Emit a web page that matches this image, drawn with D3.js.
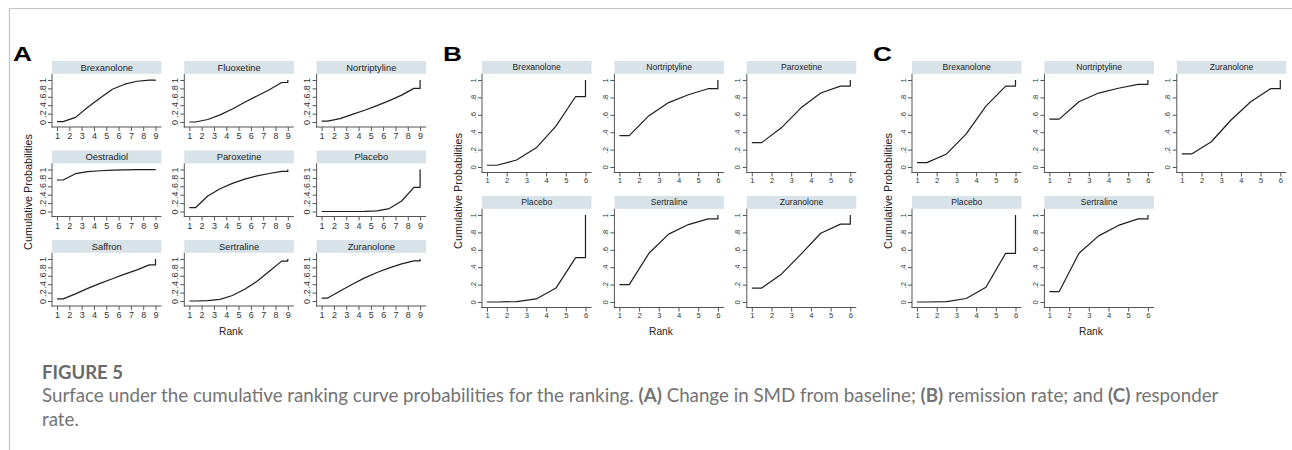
<!DOCTYPE html>
<html><head><meta charset="utf-8">
<script src="https://cdn.jsdelivr.net/npm/d3@7"></script>
<style>body{margin:0;background:#fff} svg{display:block}</style>
</head><body><svg id="c" width="1292" height="450" font-family="Liberation Sans, Arial, sans-serif"></svg>
<script>
// ---- data ----
const ranksA = [1, 2, 3, 4, 5, 6, 7, 8, 9];
const ranksBC = [1, 2, 3, 4, 5, 6];
const yTicks = [0, 0.2, 0.4, 0.6, 0.8, 1];
const yTickLabels = ["0", ".2", ".4", ".6", ".8", "1"];

// Panel A: change in SMD from baseline (cumulative probability for ranks 1..8)
const drugsA = ["Brexanolone", "Fluoxetine", "Nortriptyline", "Oestradiol", "Paroxetine", "Placebo", "Saffron", "Sertraline", "Zuranolone"];
const cumA = [
  [0.01, 0.11, 0.35, 0.57, 0.78, 0.90, 0.97, 0.995],
  [0.00, 0.06, 0.17, 0.31, 0.47, 0.62, 0.77, 0.94],
  [0.02, 0.08, 0.18, 0.28, 0.39, 0.51, 0.64, 0.80],
  [0.75, 0.90, 0.95, 0.97, 0.985, 0.99, 0.995, 0.998],
  [0.09, 0.37, 0.54, 0.67, 0.77, 0.85, 0.905, 0.955],
  [0.00, 0.00, 0.00, 0.002, 0.015, 0.07, 0.25, 0.575],
  [0.05, 0.17, 0.30, 0.42, 0.53, 0.64, 0.74, 0.86],
  [0.00, 0.01, 0.04, 0.13, 0.28, 0.47, 0.71, 0.95],
  [0.07, 0.24, 0.40, 0.55, 0.68, 0.79, 0.885, 0.955]
];

// Panel B: remission rate (ranks 1..5)
const drugsB = ["Brexanolone", "Nortriptyline", "Paroxetine", "Placebo", "Sertraline", "Zuranolone"];
const cumB = [
  [0.02, 0.08, 0.22, 0.47, 0.81],
  [0.36, 0.59, 0.74, 0.83, 0.90],
  [0.28, 0.45, 0.68, 0.85, 0.93],
  [0.00, 0.005, 0.035, 0.16, 0.51],
  [0.20, 0.56, 0.78, 0.89, 0.955],
  [0.16, 0.32, 0.55, 0.79, 0.895]
];

// Panel C: responder rate (ranks 1..5)
const drugsC = ["Brexanolone", "Nortriptyline", "Zuranolone", "Placebo", "Sertraline"];
const cumC = [
  [0.05, 0.15, 0.38, 0.70, 0.93],
  [0.55, 0.75, 0.85, 0.905, 0.95],
  [0.15, 0.29, 0.54, 0.75, 0.90],
  [0.00, 0.005, 0.04, 0.17, 0.56],
  [0.12, 0.56, 0.76, 0.88, 0.955]
];

const panelLetters = ["A", "B", "C"];
const yTitle = "Cumulative Probabilities";
const xTitle = "Rank";
const figLabel = "FIGURE 5";

// ---- layout ----
const svg = d3.select("#c");
const FONT = "Liberation Sans, Arial, sans-serif";

// frame
svg.append("line").attr("x1", 9).attr("x2", 1292).attr("y1", 8.5).attr("y2", 8.5).attr("stroke", "#c4c4c4").attr("stroke-width", 1.2);
svg.append("line").attr("x1", 9.5).attr("x2", 9.5).attr("y1", 8).attr("y2", 450).attr("stroke", "#c4c4c4").attr("stroke-width", 1.2);

const panels = [
  {letter: panelLetters[0], letterX: 13, drugs: drugsA, cum: cumA, ranks: ranksA,
   x0: 52, colPitch: 132.3, top: 61, rowPitch: 89.5, y1Off: 19, y0Off: 61, axisOff: 66,
   hdrFont: 9.4, tickFont: 9, xPad: 2, yTitleX: 28, yTitleY: 192, rankX: 231},
  {letter: panelLetters[1], letterX: 443, drugs: drugsB, cum: cumB, ranks: ranksBC,
   x0: 482, colPitch: 132.4, top: 61, rowPitch: 135, y1Off: 19, y0Off: 106, axisOff: 111.5,
   hdrFont: 8.6, tickFont: 7.6, xPad: 1, yTitleX: 458, yTitleY: 191, rankX: 661},
  {letter: panelLetters[2], letterX: 873, drugs: drugsC, cum: cumC, ranks: ranksBC,
   x0: 912, colPitch: 132.4, top: 61, rowPitch: 135, y1Off: 19, y0Off: 106, axisOff: 111.5,
   hdrFont: 8.6, tickFont: 7.6, xPad: 1, yTitleX: 888, yTitleY: 191, rankX: 1091}
];

const W = 109.5, HDR = 12.8;

panels.forEach(p => {
  // panel letter
  svg.append("text").attr("x", 0).attr("y", 0)
    .attr("transform", `translate(${p.letterX},60.5) scale(1.25,1)`)
    .attr("font-family", FONT).attr("font-weight", "bold").attr("font-size", 21)
    .attr("fill", "#000").text(p.letter);

  // y title
  svg.append("text")
    .attr("transform", `translate(${p.yTitleX},${p.yTitleY}) rotate(-90)`)
    .attr("text-anchor", "middle").attr("dy", "0.35em")
    .attr("font-family", FONT).attr("font-size", 10.8).attr("fill", "#222")
    .text(yTitle);

  // x title
  svg.append("text").attr("x", p.rankX).attr("y", 331).attr("dy", "0.35em")
    .attr("text-anchor", "middle").attr("font-family", FONT).attr("font-size", 10.2)
    .attr("fill", "#222").text(xTitle);

  const n = p.ranks.length;
  p.drugs.forEach((name, i) => {
    const col = i % 3, row = Math.floor(i / 3);
    const x0 = p.x0 + col * p.colPitch;
    const top = p.top + row * p.rowPitch;
    const axisY = top + p.axisOff;

    const x = d3.scaleLinear().domain([1, n]).range([x0 + 5, x0 + 103.5]);
    const y = d3.scaleLinear().domain([0, 1]).range([top + p.y0Off, top + p.y1Off]);

    const g = svg.append("g");

    // header strip
    g.append("rect").attr("x", x0).attr("y", top).attr("width", W).attr("height", HDR)
      .attr("fill", "#d8e2e9");
    g.append("text").attr("x", x0 + W / 2).attr("y", top + HDR / 2).attr("dy", "0.35em")
      .attr("text-anchor", "middle").attr("font-family", FONT).attr("font-size", p.hdrFont)
      .attr("fill", "#222").text(name);

    // axis lines
    g.append("line").attr("x1", x0).attr("x2", x0).attr("y1", top + HDR).attr("y2", axisY + 0.5)
      .attr("stroke", "#555").attr("stroke-width", 1);
    g.append("line").attr("x1", x0 - 0.5).attr("x2", x0 + W).attr("y1", axisY).attr("y2", axisY)
      .attr("stroke", "#555").attr("stroke-width", 1);

    // y axis ticks
    const ya = g.append("g").attr("transform", `translate(${x0},0)`)
      .call(d3.axisLeft(y).tickValues(yTicks).tickFormat((d, k) => yTickLabels[k]).tickSize(4).tickSizeOuter(0));
    ya.attr("font-family", FONT);
    ya.select(".domain").remove();
    ya.selectAll("line").attr("stroke", "#555");
    ya.selectAll("text").attr("x", 0).attr("y", -6.5).attr("dy", 0)
      .attr("text-anchor", "middle").attr("transform", "rotate(-90)")
      .attr("font-family", FONT).attr("font-size", p.tickFont).attr("fill", "#333");

    // x axis ticks
    const xa = g.append("g").attr("transform", `translate(0,${axisY})`)
      .call(d3.axisBottom(x).tickValues(p.ranks).tickFormat(d3.format("d")).tickSize(4).tickPadding(p.xPad).tickSizeOuter(0));
    xa.attr("font-family", FONT);
    xa.select(".domain").remove();
    xa.selectAll("line").attr("stroke", "#555");
    xa.selectAll("text").attr("font-family", FONT).attr("font-size", p.tickFont).attr("fill", "#333");

    // cumulative ranking curve
    const c = p.cum[i];
    const pts = [[1, c[0]]];
    c.forEach((v, k) => pts.push([k + 1.5, v]));
    pts.push([n, c[c.length - 1]]);
    pts.push([n, 1]);
    g.append("path").datum(pts)
      .attr("d", d3.line().x(d => x(d[0])).y(d => y(d[1])))
      .attr("fill", "none").attr("stroke", "#1e1e1e").attr("stroke-width", 1.2)
      .attr("stroke-linejoin", "round");
  });
});

// ---- caption ----
const CAP = "Lato, Open Sans, sans-serif";
svg.append("text").attr("x", 42).attr("y", 379)
  .attr("font-family", CAP).attr("font-weight", "bold").attr("font-size", 19.5)
  .attr("textLength", 81).attr("lengthAdjust", "spacingAndGlyphs")
  .attr("fill", "#6a6a6a").text(figLabel);

const capParts = [
  ["Surface under the cumulative ranking curve probabilities for the ranking. ", false],
  ["(A)", true], [" Change in SMD from baseline; ", false],
  ["(B)", true], [" remission rate; and ", false],
  ["(C)", true], [" responder", false]
];
const line1 = svg.append("text").attr("x", 42).attr("y", 402)
  .attr("font-family", CAP).attr("font-size", 16).attr("fill", "#737373")
  .attr("xml:space", "preserve").style("white-space", "pre");
capParts.forEach(([t, b]) => {
  line1.append("tspan").attr("font-weight", b ? "bold" : "normal").text(t);
});
const l1 = line1.node().getComputedTextLength();
const capSize = 16 * 1177 / l1;
line1.attr("font-size", capSize);
svg.append("text").attr("x", 42).attr("y", 426)
  .attr("font-family", CAP).attr("font-size", capSize).attr("fill", "#737373")
  .text("rate.");
</script>
</body></html>
